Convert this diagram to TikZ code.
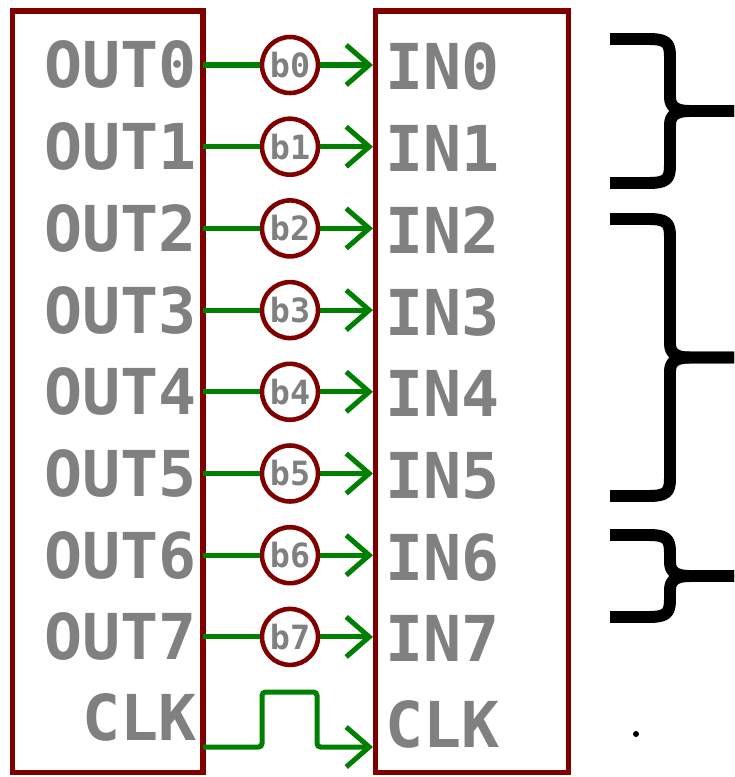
\documentclass[tikz,border=0pt]{standalone}
\usepackage{fontspec}
\setmonofont{DejaVu Sans Mono}
\usepackage{xcolor}
\usetikzlibrary{arrows.meta}
\definecolor{pinred}{RGB}{128,0,0}
\definecolor{pingreen}{RGB}{0,128,0}
\definecolor{pingray}{RGB}{128,128,128}

% one curly bracket: top arm, bottom arm
\newcommand\curly[2]{%
  \pgfmathsetmacro\bmid{(#1+#2)/2}
  \draw[curlybar] (610,#1) -- (648,#1) .. controls (667,#1) and (670,#1+4) .. (670,#1+18)
    -- (670,\bmid-14) .. controls (670,\bmid-4) and (676,\bmid) .. (690,\bmid) -- (734,\bmid);
  \draw[curlybar] (610,#2) -- (648,#2) .. controls (667,#2) and (670,#2-4) .. (670,#2-18)
    -- (670,\bmid+14) .. controls (670,\bmid+4) and (676,\bmid) .. (690,\bmid) -- (734,\bmid);
}

\begin{document}
\begin{tikzpicture}[x=0.02cm,y=-0.02cm,
  box/.style={draw=pinred,line width=2.85pt},
  pin/.style={text=pingray,inner sep=0pt,font=\ttfamily\bfseries\fontsize{36}{40}\selectfont},
  bit/.style={circle,draw=pinred,line width=2.6pt,fill=white,minimum size=1.12cm,inner sep=0pt,
    text=pingray,font=\ttfamily\bfseries\fontsize{19}{20}\selectfont},
  wire/.style={draw=pingreen,line width=2.85pt},
  sig/.style={wire,-{Straight Barb[length=0.46cm,width=0.8cm]}},
  curlybar/.style={line width=6.8pt,line join=round}]
\useasboundingbox (0,0) rectangle (734,777);

\draw[box] (12.5,11) rectangle (203,772);
\draw[box] (375.5,11) rectangle (568,772);

\foreach \i in {0,...,7}{
  \pgfmathsetmacro\y{65+81.7*\i}
  \node[pin,anchor=base east] (out\i) at (197,\y+23) {OUT\i};
  \node[pin,anchor=base west] (in\i) at (385,\y+25) {IN\i};
  \coordinate (src\i) at (203,\y);
  \coordinate (dst\i) at (373,\y);
  \node[bit] (b\i) at (290,\y) {b\i};
  \draw[wire] (src\i) -- (b\i);
  \draw[sig] (b\i) -- (dst\i);
}

\node[pin,anchor=base east] (clkout) at (197,740) {CLK};
\node[pin,anchor=base west] (clkin) at (385,747) {CLK};
\coordinate (clksrc) at (203,747);
\coordinate (clkdst) at (373,747);
\draw[sig,rounded corners=2pt] (clksrc) -- (262,747) -- (262,692) -- (317,692) -- (317,747) -- (clkdst);

\curly{39}{183}
\curly{219}{496}
\curly{535}{617}

\fill (636,734) circle (0.06cm);
\end{tikzpicture}
\end{document}
